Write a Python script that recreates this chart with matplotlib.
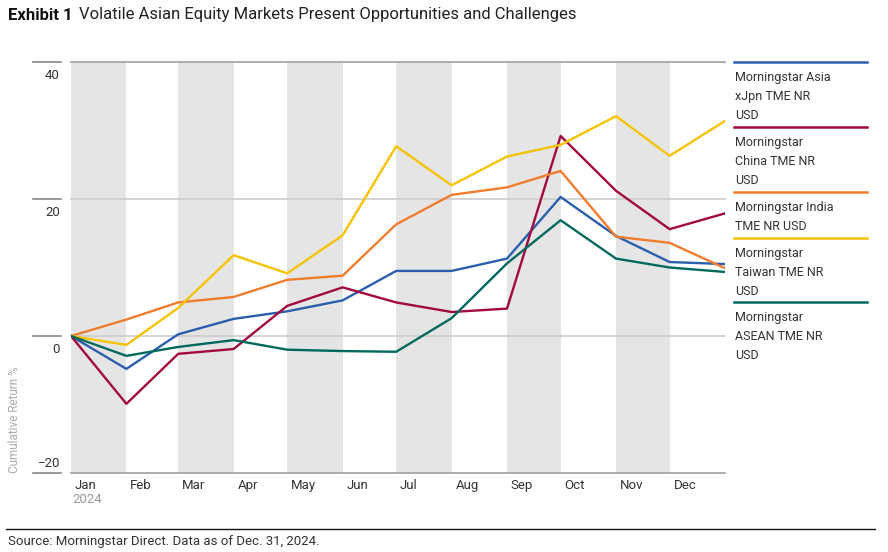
import numpy as np
import pandas as pd
import matplotlib
matplotlib.use("Agg")
import matplotlib.pyplot as plt
import matplotlib.transforms as mtransforms

plt.rcParams['font.family'] = ['Roboto', 'DejaVu Sans']

# month-end dates (start at Dec 31, 2023)
dates = pd.to_datetime(['2023-12-31', '2024-01-31', '2024-02-29', '2024-03-31',
                        '2024-04-30', '2024-05-31', '2024-06-30', '2024-07-31',
                        '2024-08-31', '2024-09-30', '2024-10-31', '2024-11-30',
                        '2024-12-31'])

asia_xjpn = [0, -4.8, 0.25, 2.5, 3.6, 5.2, 9.5, 9.5, 11.3, 20.3, 14.6, 10.8, 10.5]
china = [0, -9.9, -2.6, -1.9, 4.4, 7.1, 4.9, 3.5, 4.0, 29.2, 21.2, 15.6, 17.9]
india = [0, 2.4, 4.9, 5.7, 8.2, 8.8, 16.3, 20.6, 21.7, 24.1, 14.5, 13.6, 9.9]
taiwan = [0, -1.3, 4.1, 11.8, 9.15, 14.7, 27.7, 22.0, 26.2, 27.9, 32.1, 26.3, 31.4]
asean = [0, -2.9, -1.6, -0.6, -2.0, -2.2, -2.3, 2.6, 10.6, 16.9, 11.3, 10.0, 9.35]

series_names = ['Morningstar Asia\nxJpn TME NR\nUSD',
                'Morningstar\nChina TME NR\nUSD',
                'Morningstar India\nTME NR USD',
                'Morningstar\nTaiwan TME NR\nUSD',
                'Morningstar\nASEAN TME NR\nUSD']
series_values = [asia_xjpn, china, india, taiwan, asean]
colors = ['#2b5eab', '#a2093f', '#f07d2e', '#f5c300', '#00695c']

month_labels = ['Jan', 'Feb', 'Mar', 'Apr', 'May', 'Jun',
                'Jul', 'Aug', 'Sep', 'Oct', 'Nov', 'Dec']
y_ticks = [-20, 0, 20, 40]

fig = plt.figure(figsize=(8.88, 5.52), dpi=100)
ax = fig.add_axes([71 / 888, 1 - 473 / 552, 654 / 888, 411 / 552])

ax.set_xlim(dates[0], dates[-1])
ax.set_ylim(-20, 40)

# alternating month bands
for i in range(0, 12, 2):
    ax.axvspan(dates[i], dates[i + 1], color='#e5e5e5', lw=0, zorder=0)

# horizontal grid lines
for v in y_ticks:
    col = '#a0a0a0' if v in (40, -20) else '#cccccc'
    ax.axhline(v, color=col, lw=1.2, zorder=1, clip_on=False)

for vals, col in zip(series_values, colors):
    ax.plot(dates, vals, color=col, lw=1.7, zorder=3)

for s in ax.spines.values():
    s.set_visible(False)
ax.set_yticks([])
ax.tick_params(axis='x', length=0, labelsize=9.5, colors='#333333', pad=4)
month_starts = pd.date_range('2024-01-01', periods=12, freq='MS')
ax.set_xticks(month_starts)
ax.set_xticklabels(month_labels, ha='left')
ax.text(month_starts[0], -0.048, '2024',
        transform=mtransforms.blended_transform_factory(ax.transData, ax.transAxes),
        ha='left', va='top', fontsize=9.5, color='#999999')
# shift x labels slightly right
offset = mtransforms.ScaledTranslation(2 / 100, 0, fig.dpi_scale_trans)
for lbl in ax.get_xticklabels():
    lbl.set_transform(lbl.get_transform() + offset)

# y tick marks and labels on the left
trans = mtransforms.blended_transform_factory(ax.transAxes, ax.transData)
for v in y_ticks:
    ax.plot([-38 / 654, -10 / 654], [v, v], transform=trans, color='#888888',
            lw=1.2, clip_on=False)
    lab = '\u221220' if v < 0 else str(v)
    ax.text(-11 / 654, v + (0.5 if v == -20 else -1.0), lab, transform=trans,
            ha='right', va='bottom' if v == -20 else 'top', fontsize=9.5, color='#333333')

fig.text(15 / 888, 1 - 473 / 552, 'Cumulative Return %', rotation=90,
         ha='center', va='bottom', fontsize=8.5, color='#aaaaaa')

# legend on the right
line_y = [62, 127, 192, 238, 302]
for name, col, ly in zip(series_names, colors, line_y):
    fig.add_artist(plt.Line2D([734 / 888, 867 / 888], [1 - ly / 552, 1 - ly / 552],
                              color=col, lw=1.8))
    fig.text(735 / 888, 1 - (ly + 9) / 552, name, ha='left', va='top',
             fontsize=9, color='#333333', linespacing=1.62)

# title
t1 = fig.text(8 / 888, 1 - 15 / 552, 'Exhibit 1', fontsize=12, fontweight='bold',
              color='#111111', va='center', ha='left')
fig.canvas.draw()
bb = t1.get_window_extent()
fig.text((bb.x1 + 6) / 888, 1 - 15 / 552,
         'Volatile Asian Equity Markets Present Opportunities and Challenges',
         fontsize=12, color='#222222', va='center', ha='left')

# source
fig.add_artist(plt.Line2D([6 / 888, 875 / 888], [1 - 529 / 552, 1 - 529 / 552],
                          color='#111111', lw=1))
fig.text(8 / 888, 1 - 541 / 552, 'Source: Morningstar Direct. Data as of Dec. 31, 2024.',
         fontsize=9.5, color='#333333', va='center', ha='left')

fig.savefig('out.png', dpi=100)
